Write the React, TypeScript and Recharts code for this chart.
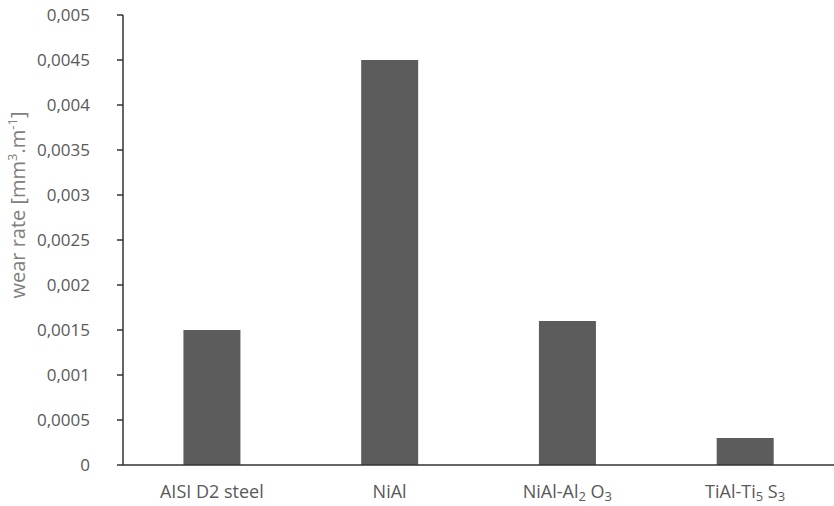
import React from 'react';
import { BarChart, Bar, XAxis, YAxis } from 'recharts';

const categories = ['AISI D2 steel', 'NiAl', 'NiAl-Al2O3', 'TiAl-Ti5S3'];
const wearRate = [0.0015, 0.0045, 0.0016, 0.0003];
const yTicks = [0, 0.0005, 0.001, 0.0015, 0.002, 0.0025, 0.003, 0.0035, 0.004, 0.0045, 0.005];
const boundaryTicks = [0, 1, 2, 3, 4];

const data = categories.map((c, i) => ({ name: c, value: wearRate[i] }));

const FONT = '"Open Sans", sans-serif';
const TEXT_COLOR = '#595959';

const fmt = (v: number) => (v === 0 ? '0' : String(+v.toFixed(4)).replace('.', ','));

const renderLabel = (name: string) => {
  if (name === 'NiAl-Al2O3') {
    return [
      <tspan key="a">NiAl-Al</tspan>,
      <tspan key="b" fontSize={13} dy={3}>2</tspan>,
      <tspan key="c" dy={-3}> O</tspan>,
      <tspan key="d" fontSize={13} dy={3}>3</tspan>,
    ];
  }
  if (name === 'TiAl-Ti5S3') {
    return [
      <tspan key="a">TiAl-Ti</tspan>,
      <tspan key="b" fontSize={13} dy={3}>5</tspan>,
      <tspan key="c" dy={-3}> S</tspan>,
      <tspan key="d" fontSize={13} dy={3}>3</tspan>,
    ];
  }
  return name;
};

const CatTick = (props: any) => {
  const { x, y, payload } = props;
  return (
    <text x={x} y={y} dy={33} textAnchor="middle" fill={TEXT_COLOR} fontFamily={FONT} fontSize={18}>
      {renderLabel(payload.value)}
    </text>
  );
};

const YLabel = () => (
  <text
    x={0}
    y={0}
    transform="translate(25,205) rotate(-90)"
    textAnchor="middle"
    fill="#808080"
    fontFamily={FONT}
    fontSize={20}
  >
    <tspan>wear rate [mm</tspan>
    <tspan fontSize={13} dy={-8}>3</tspan>
    <tspan dy={8}>.m</tspan>
    <tspan fontSize={13} dy={-8}>-1</tspan>
    <tspan dy={8}>]</tspan>
  </text>
);

export default function App() {
  return (
    <div style={{ position: 'absolute', left: 0, top: 0, width: 834, height: 506, background: '#fff' }}>
      <BarChart
        width={834}
        height={506}
        data={data}
        margin={{ top: 15, right: 0, bottom: 0, left: 0 }}
        barCategoryGap="34%"
      >
        <XAxis
          dataKey="name"
          xAxisId="cat"
          tick={<CatTick />}
          tickLine={false}
          axisLine={{ stroke: '#333333', strokeWidth: 1.5 }}
          tickSize={0}
          tickMargin={0}
          height={41}
          interval={0}
        />
        <XAxis
          xAxisId="bnd"
          type="number"
          domain={[0, 4]}
          ticks={boundaryTicks}
          tick={false}
          axisLine={false}
          tickLine={{ stroke: '#333333', strokeWidth: 1.5 }}
          tickSize={6}
          height={0}
          orientation="bottom"
        />
        <YAxis
          width={123}
          domain={[0, 0.005]}
          ticks={yTicks}
          interval={0}
          tickFormatter={fmt}
          tick={{ fill: TEXT_COLOR, fontFamily: FONT, fontSize: 17 }}
          tickSize={6}
          tickMargin={27}
          axisLine={{ stroke: '#333333', strokeWidth: 1.5 }}
          tickLine={{ stroke: '#333333', strokeWidth: 1.5 }}
          label={<YLabel />}
        />
        <Bar dataKey="value" xAxisId="cat" fill="#5c5c5c" isAnimationActive={false} />
      </BarChart>
    </div>
  );
}
